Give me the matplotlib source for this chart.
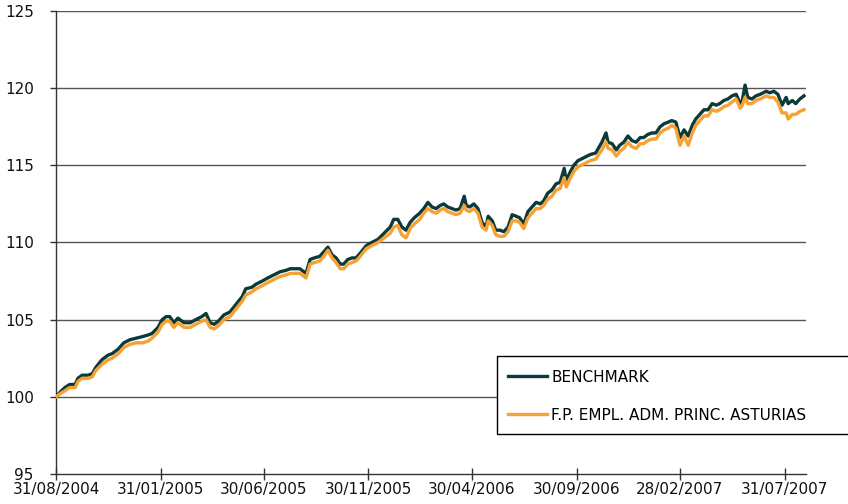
import matplotlib
matplotlib.use("Agg")
import matplotlib.pyplot as plt
import matplotlib.patches as mpatches
import pandas as pd

# Day offsets from 31/08/2004
days = [0, 6, 13, 20, 28, 32, 38, 47, 53, 58, 67, 76, 82, 91, 99, 108, 117, 126, 134, 140,
        149, 155, 161, 166, 172, 178, 187, 196, 204, 213, 219, 225, 231, 237, 245, 254, 263, 272, 277, 286,
        292, 301, 309, 318, 327, 336, 342, 350, 356, 365, 371, 377, 385, 391, 397, 403, 409, 415, 420, 426,
        432, 438, 444, 453, 461, 470, 479, 488, 493, 499, 505, 511, 517, 523, 531, 537, 543, 549, 555, 561,
        566, 572, 578, 584, 590, 596, 599, 604, 610, 616, 622, 628, 631, 637, 642, 648, 654, 660, 666, 672,
        677, 683, 689, 695, 701, 707, 712, 718, 724, 730, 736, 742, 745, 750, 756, 762, 771, 780, 788, 797,
        803, 806, 812, 818, 823, 829, 835, 841, 847, 853, 858, 864, 870, 876, 882, 888, 894, 899, 905, 911,
        917, 923, 929, 934, 940, 946, 952, 958, 964, 969, 975, 981, 987, 993, 999, 1002, 1006, 1010, 1016, 1022,
        1028, 1037, 1042, 1048, 1054, 1060, 1066, 1069, 1075, 1080, 1086, 1092]

benchmark = [100.0, 100.3, 100.6, 100.8, 100.8, 101.2, 101.4, 101.4, 101.5, 101.9, 102.4, 102.7, 102.8, 103.1, 103.5, 103.7, 103.8, 103.9, 104.0, 104.1,
             104.5, 105.0, 105.2, 105.2, 104.8, 105.1, 104.8, 104.8, 105.0, 105.2, 105.4, 104.8, 104.7, 104.9, 105.3, 105.5, 106.0, 106.5, 107.0, 107.1,
             107.3, 107.5, 107.7, 107.9, 108.1, 108.2, 108.3, 108.3, 108.3, 108.0, 108.9, 109.0, 109.1, 109.4, 109.7, 109.2, 109.0, 108.6, 108.6, 108.9,
             109.0, 109.0, 109.3, 109.8, 110.0, 110.2, 110.6, 111.0, 111.5, 111.5, 111.0, 110.8, 111.3, 111.6, 111.9, 112.2, 112.6, 112.3, 112.2, 112.4,
             112.5, 112.3, 112.2, 112.1, 112.2, 113.0, 112.4, 112.3, 112.5, 112.2, 111.3, 111.0, 111.7, 111.4, 110.8, 110.8, 110.7, 111.0, 111.8, 111.7,
             111.6, 111.2, 112.0, 112.3, 112.6, 112.5, 112.7, 113.2, 113.4, 113.8, 113.9, 114.8, 114.0, 114.5, 115.0, 115.3, 115.5, 115.7, 115.8, 116.5,
             117.1, 116.5, 116.4, 116.0, 116.3, 116.5, 116.9, 116.6, 116.5, 116.8, 116.8, 117.0, 117.1, 117.1, 117.5, 117.7, 117.8, 117.9, 117.8, 116.8,
             117.3, 116.9, 117.6, 118.0, 118.3, 118.6, 118.6, 119.0, 118.9, 119.0, 119.2, 119.3, 119.5, 119.6, 119.0, 119.2, 120.2, 119.4, 119.3, 119.5,
             119.6, 119.8, 119.7, 119.8, 119.6, 118.9, 119.4, 119.0, 119.2, 119.0, 119.3, 119.5]

fund = [100.0, 100.2, 100.4, 100.6, 100.6, 101.0, 101.2, 101.2, 101.3, 101.7, 102.1, 102.4, 102.5, 102.8, 103.2, 103.4, 103.5, 103.5, 103.6, 103.8,
        104.2, 104.7, 104.9, 104.9, 104.5, 104.8, 104.5, 104.5, 104.7, 104.9, 105.0, 104.5, 104.4, 104.6, 105.0, 105.2, 105.7, 106.2, 106.6, 106.8,
        107.0, 107.2, 107.4, 107.6, 107.8, 107.9, 108.0, 108.0, 108.0, 107.7, 108.6, 108.7, 108.8, 109.1, 109.5, 109.0, 108.7, 108.3, 108.3, 108.6,
        108.7, 108.8, 109.1, 109.6, 109.8, 110.0, 110.3, 110.6, 111.0, 111.1, 110.5, 110.3, 110.9, 111.2, 111.5, 111.9, 112.2, 112.0, 111.9, 112.1,
        112.2, 112.0, 111.9, 111.8, 111.9, 112.4, 112.1, 112.0, 112.2, 111.9, 111.0, 110.8, 111.4, 111.1, 110.5, 110.4, 110.4, 110.7, 111.4, 111.4,
        111.3, 110.9, 111.6, 111.9, 112.2, 112.2, 112.4, 112.8, 113.0, 113.4, 113.5, 114.2, 113.6, 114.1, 114.6, 114.9, 115.1, 115.3, 115.4, 116.0,
        116.5, 116.1, 116.0, 115.6, 115.9, 116.1, 116.5, 116.2, 116.1, 116.4, 116.4, 116.6, 116.7, 116.7, 117.1, 117.3, 117.4, 117.6, 117.4, 116.3,
        116.9, 116.3, 117.1, 117.6, 117.9, 118.2, 118.2, 118.6, 118.5, 118.6, 118.8, 118.9, 119.1, 119.3, 118.7, 118.9, 119.4, 119.0, 119.0, 119.2,
        119.3, 119.5, 119.4, 119.4, 119.1, 118.4, 118.4, 118.0, 118.3, 118.3, 118.5, 118.6]

tick_labels = ["31/08/2004", "31/01/2005", "30/06/2005", "30/11/2005",
               "30/04/2006", "30/09/2006", "28/02/2007", "31/07/2007"]
series_names = ["BENCHMARK", "F.P. EMPL. ADM. PRINC. ASTURIAS"]

start = pd.Timestamp("2004-08-31")
dates = [start + pd.Timedelta(days=d) for d in days]
tick_dates = [pd.to_datetime(t, dayfirst=True) for t in tick_labels]

W, H = 848, 504
fig = plt.figure(figsize=(W / 100, H / 100), dpi=100)
ax = fig.add_axes([56 / W, 30 / H, 750 / W, 463 / H])

ax.plot(dates, benchmark, color="#0b3a38", lw=2.4, label=series_names[0], zorder=3)
ax.plot(dates, fund, color="#f7a033", lw=2.4, label=series_names[1], zorder=4)

ax.set_xlim(start, pd.Timestamp("2007-08-31"))
ax.set_ylim(95, 125)
ax.set_yticks(range(95, 126, 5))
ax.set_xticks(tick_dates)
ax.set_xticklabels(tick_labels)

for y in range(100, 126, 5):
    ax.axhline(y, color="#555555", lw=1.0, zorder=1)

for s in ["top", "right"]:
    ax.spines[s].set_visible(False)
for s in ["left", "bottom"]:
    ax.spines[s].set_color("#333333")
    ax.spines[s].set_linewidth(1.0)

ax.tick_params(axis="x", direction="inout", length=8, width=1, color="#333333",
               labelsize=11, pad=2, labelcolor="#111111")
ax.tick_params(axis="y", direction="out", length=4, width=1, color="#333333",
               labelsize=11, pad=12, labelcolor="#111111")

# Legend box (extends past the right edge of the figure, as in the original)
box = mpatches.Rectangle((497 / W, 1 - 434 / H), 360 / W, 78 / H, transform=fig.transFigure,
                         facecolor="white", edgecolor="#000000", lw=1.0, zorder=5)
fig.add_artist(box)

leg = fig.legend(loc="upper left", bbox_to_anchor=(500 / W, 1 - 362 / H),
                 frameon=False, fontsize=11, handlelength=2.6,
                 handletextpad=0.25, labelspacing=1.5, borderpad=0.5, borderaxespad=0)
leg.set_zorder(6)

fig.savefig("out.png", dpi=100)
